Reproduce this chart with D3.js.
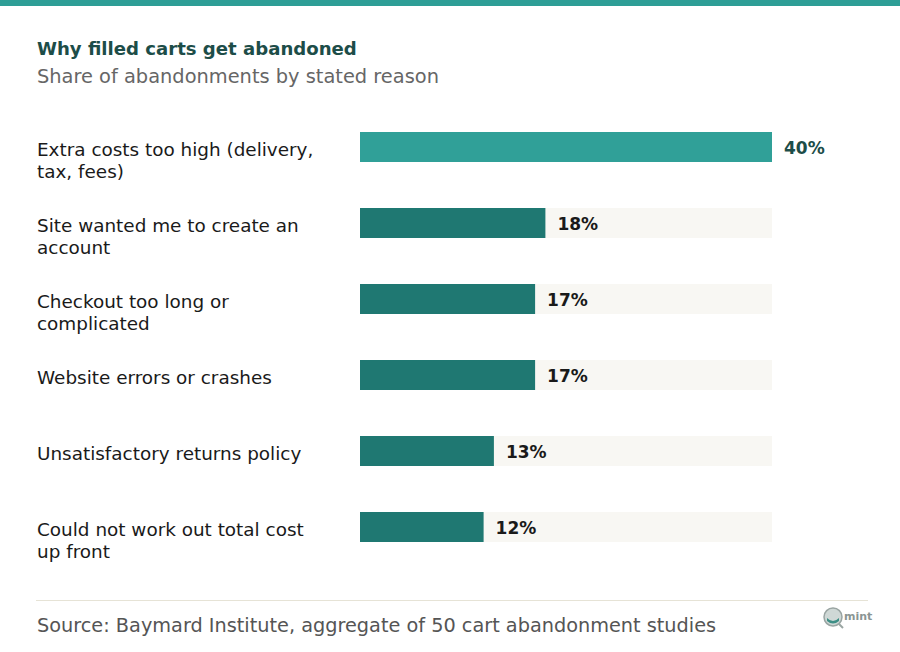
<!DOCTYPE html>
<html>
<head>
<meta charset="utf-8">
<script src="https://cdn.jsdelivr.net/npm/d3@7"></script>
<style>
  body { margin: 0; background: #fff; }
  svg { display: block; font-family: "DejaVu Sans", sans-serif; }
</style>
</head>
<body>
<svg id="chart" width="900" height="652"></svg>
<script>
// reasons, each split into the lines shown on the left
const reasons = [
    ["Extra costs too high (delivery,", "tax, fees)"],
    ["Site wanted me to create an", "account"],
    ["Checkout too long or", "complicated"],
    ["Website errors or crashes"],
    ["Unsatisfactory returns policy"],
    ["Could not work out total cost", "up front"]
];
const shares = [40, 18, 17, 17, 13, 12];
const trackMax = 40;

const title = "Why filled carts get abandoned";
const subtitle = "Share of abandonments by stated reason";
const source = "Source: Baymard Institute, aggregate of 50 cart abandonment studies";

const width = 900;
const barLeft = 360;
const barRight = 772;
const barHeight = 30;
const labelX = 37;

const rows = reasons.map(function(lines, i){ return {lines: lines, value: shares[i], i: i}; });

const svg = d3.select('#chart');

const x = d3.scaleLinear().domain([0, trackMax]).range([barLeft, barRight]);
const y = d3.scalePoint().domain(d3.range(rows.length)).range([147, 527]);

function barColor(d){ return d.i === 0 ? '#30a098' : '#1f7872'; }

// top strip
svg.append('rect')
   .attr('x', 0).attr('y', 0)
   .attr('width', width).attr('height', 6)
   .attr('fill', '#2e9e96');

svg.append('text')
   .text(title)
   .attr('x', labelX).attr('y', 55)
   .attr('fill', '#1d4d48')
   .style('font-size', '18.1px')
   .style('font-weight', 'bold');

svg.append('text')
   .text(subtitle)
   .attr('x', labelX).attr('y', 83)
   .attr('fill', '#666')
   .style('font-size', '19.4px');

// background tracks
svg.selectAll('rect.track')
   .data(rows)
   .enter()
   .append('rect')
   .attr('class', 'track')
   .attr('x', x(0))
   .attr('y', function(d){ return y(d.i) - barHeight / 2; })
   .attr('width', x(trackMax) - x(0))
   .attr('height', barHeight)
   .attr('fill', '#f8f7f3');

svg.selectAll('rect.bar')
   .data(rows)
   .enter()
   .append('rect')
   .attr('class', 'bar')
   .attr('x', x(0))
   .attr('y', function(d){ return y(d.i) - barHeight / 2; })
   .attr('width', function(d){ return x(d.value) - x(0); })
   .attr('height', barHeight)
   .attr('fill', barColor);

svg.selectAll('text.value')
   .data(rows)
   .enter()
   .append('text')
   .attr('class', 'value')
   .text(function(d){ return d.value + '%'; })
   .attr('x', function(d){ return x(d.value) + 12; })
   .attr('y', function(d){ return y(d.i) + 7; })
   .attr('fill', function(d){ return d.i === 0 ? '#1d4d48' : '#1a1a1a'; })
   .style('font-size', '17px')
   .style('font-weight', 'bold');

let labels = svg.selectAll('text.label')
                .data(rows)
                .enter()
                .append('text')
                .attr('class', 'label')
                .attr('x', labelX)
                .attr('y', function(d){ return y(d.i) + 9; })
                .attr('fill', '#1a1a1a')
                .style('font-size', '18.4px');

labels.selectAll('tspan')
      .data(function(d){ return d.lines; })
      .enter()
      .append('tspan')
      .attr('x', labelX)
      .attr('dy', function(d, i){ return i === 0 ? 0 : 22; })
      .text(function(d){ return d; });

// footer
svg.append('line')
   .attr('x1', 36).attr('x2', 868)
   .attr('y1', 600.5).attr('y2', 600.5)
   .attr('stroke', '#e6e3d6')
   .attr('stroke-width', 1);

svg.append('text')
   .text(source)
   .attr('x', labelX).attr('y', 632)
   .attr('fill', '#555')
   .style('font-size', '19.3px');

// small logo mark
let logo = svg.append('g').attr('transform', 'translate(833,617)');
logo.append('circle').attr('r', 9).attr('fill', '#cfd8d6').attr('stroke', '#9aa5a3').attr('stroke-width', 1.5);
logo.append('path').attr('d', 'M-6,1 Q0,7 6,1 L6,4 Q0,9 -6,4 Z').attr('fill', '#3e8f86');
logo.append('line').attr('x1', 6).attr('y1', 7).attr('x2', 10).attr('y2', 11).attr('stroke', '#9aa5a3').attr('stroke-width', 2);
logo.append('text').text('mint').attr('x', 11).attr('y', 3)
    .attr('fill', '#8a9593').style('font-size', '11px').style('font-weight', 'bold');
</script>
</body>
</html>
